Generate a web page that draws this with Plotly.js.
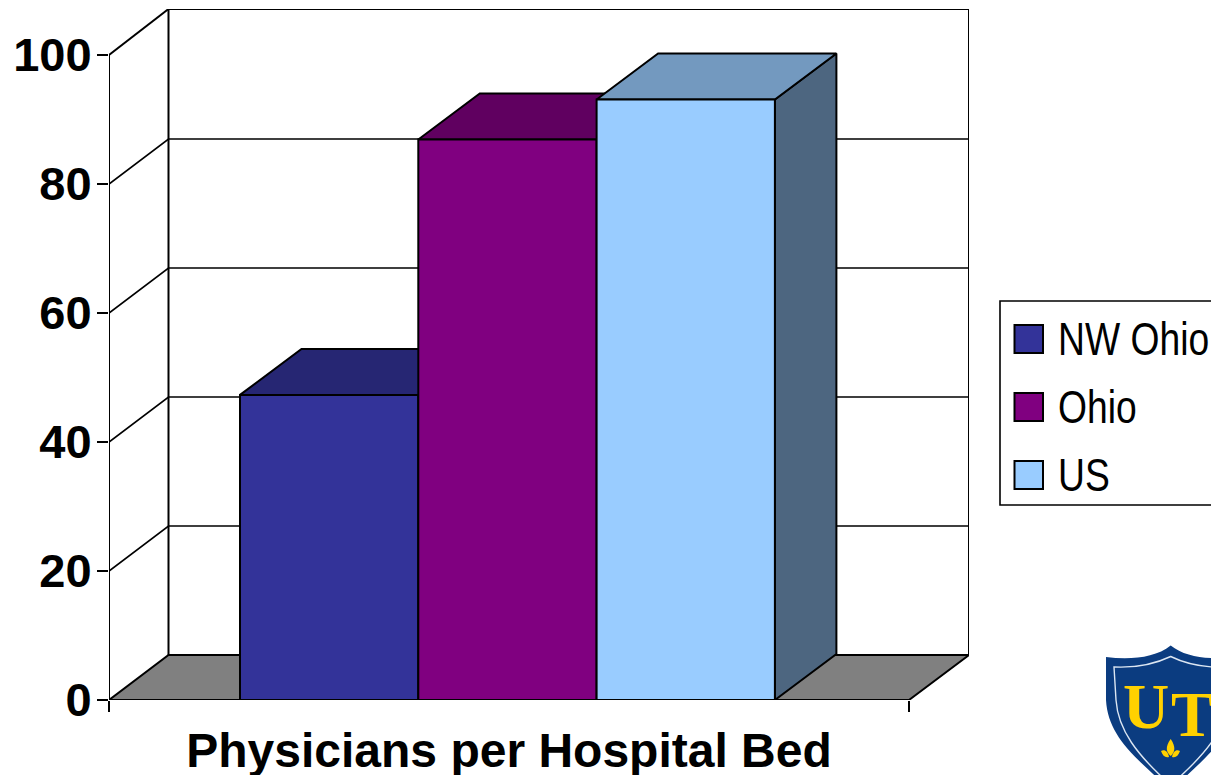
<!DOCTYPE html>
<html><head><meta charset="utf-8">
<script src="https://cdn.plot.ly/plotly-3.0.1.min.js"></script>
<style>html,body{margin:0;padding:0;background:#fff;overflow:hidden}#c{width:1211px;height:775px}</style>
</head><body><div id="c"></div>
<script>
const categories = ['NW Ohio', 'Ohio', 'US'];
const values = [47.3, 86.9, 93.1];
const frontColors = ['#333399', '#800080', '#99CCFF'];
const topColors = ['#262673', '#600060', '#7399BF'];
const sideColors = ['#262673', '#600060', '#4D6680'];
const yTicks = [0, 20, 40, 60, 80, 100];
const xLabel = 'Physicians per Hospital Bed';

const W = 1211, H = 775;
const L = 109, R = 969, T = 9, B = 700;
const frontWidth = 800, unitPx = 6.45;
const depthX = 59.5 / frontWidth, depthY = 45 / unitPx;
const barDepthX = 61.5 / frontWidth, barDepthY = 46 / unitPx;
const barW = 178.3 / frontWidth, barStart = 131 / frontWidth;
const xMax = (R - L) / frontWidth, yMax = (B - T) / unitPx;
const LW = 2, GRID_LW = 1.7;

const px = x => (x - L) / (R - L);
const py = y => (B - y) / (B - T);

const traces = [];
function poly(xs, ys, fill, lw) {
  traces.push({type:'scatter', mode:'lines', x:xs, y:ys, fill: fill ? 'toself' : 'none', cliponaxis:false,
    fillcolor: fill || undefined, line:{color:'#000', width:lw || LW}, hoverinfo:'skip', showlegend:false, xaxis:'x', yaxis:'y'});
}
// floor
poly([0, 1, xMax, depthX, 0], [0, 0, depthY, depthY, 0], '#808080');
// back wall outline and side wall edge
poly([depthX, depthX, xMax, xMax], [depthY, yMax, yMax, depthY]);
poly([0, depthX], [100, yMax]);
poly([0, 0], [0, 100]);
poly([0, 1], [0, 0]);
// gridlines over both walls
yTicks.filter(v => v > 0 && v < 100).forEach(v => {
  poly([0, depthX, xMax], [v, v + depthY, v + depthY], null, GRID_LW);
});
// tops and sides
categories.forEach((c, i) => {
  const x0 = barStart + i * barW, x1 = x0 + barW, v = values[i];
  poly([x1, x1 + barDepthX, x1 + barDepthX, x1, x1], [0, barDepthY, v + barDepthY, v, 0], sideColors[i]);
  poly([x0, x1, x1 + barDepthX, x0 + barDepthX, x0], [v, v, v + barDepthY, v + barDepthY, v], topColors[i]);
});
// fronts on an overlaying subplot so they hide what is behind them
traces.push({type:'bar', x: categories.map((c, i) => barStart + (i + 0.5) * barW), y: values,
  width: categories.map(() => barW), cliponaxis:false,
  marker:{color: frontColors, line:{color:'#000', width:LW}}, text: categories, textposition:'none',
  hoverinfo:'text+y', showlegend:false, xaxis:'x2', yaxis:'y2'});

// legend drawn to keep the reference's large swatches
const shapes = [];
const annotations = [];
function rect(x0, y0, x1, y1, fill, w) {
  shapes.push({type:'rect', xref:'paper', yref:'paper', x0:px(x0), x1:px(x1), y0:py(y0), y1:py(y1),
    fillcolor:fill, line:{color:'#000', width:w}, layer:'above'});
}
rect(1000, 301, 1240, 505, '#FFFFFF', 1.6);
const legendY = [339, 407, 475];
categories.forEach((c, i) => {
  rect(1014.5, legendY[i] - 14, 1043, legendY[i] + 14, frontColors[i], 2);
  annotations.push({xref:'paper', yref:'paper', x:px(1056.5), y:py(legendY[i]), xanchor:'left', yanchor:'middle',
    text:c, showarrow:false, align:'left', borderpad:0,
    font:{family:'"Liberation Sans", Arial, sans-serif', size:46, color:'#000'}});
});

// logo
function pathOf(cmds) {
  return cmds.map(c => c[0] + c.slice(1).map((v, k) => k % 2 === 0 ? px(v) : py(v)).join(' ')).join(' ');
}
function shape(cmds, fill, lineColor, lw) {
  shapes.push({type:'path', xref:'paper', yref:'paper', path:pathOf(cmds), fillcolor:fill,
    line:{color:lineColor || fill, width:lw === undefined ? 0 : lw}, layer:'above'});
}
const navy = '#0B3C80', gold = '#FFD100';
shape([['M',1106,657],['C',1130,660,1155,658,1170.7,645.5],['C',1186,658,1212,660,1236,657],
       ['L',1236,700],['C',1232,735,1210,755,1170.7,790],['C',1132,755,1108,735,1106,700],['Z']], navy);
shape([['M',1114,667],['C',1135,668,1155,664,1170.7,656.5],['C',1186,664,1206,668,1228,667],
       ['L',1228,700],['C',1226,730,1205,755,1170.7,785],['C',1137,755,1118,730,1116,700],['Z']], 'rgba(0,0,0,0)', '#DCE6F2', 1.4);
annotations.push({xref:'paper', yref:'paper', x:px(1146), y:py(706), text:'<b>U</b>', showarrow:false, xanchor:'center', yanchor:'middle',
  font:{family:'"Liberation Serif", serif', size:64, color:gold}});
annotations.push({xref:'paper', yref:'paper', x:px(1192), y:py(714), text:'<b>T</b>', showarrow:false, xanchor:'center', yanchor:'middle',
  font:{family:'"Liberation Serif", serif', size:64, color:gold}});
shape([['M',1170.7,739],['C',1165,747,1166,752,1170.7,756],['C',1175,752,1176,747,1170.7,739],['Z']], gold);
shape([['M',1161,751],['C',1165,749,1168,752,1169,757],['C',1165,758,1163,756,1161,751],['Z']], gold);
shape([['M',1180,751],['C',1176,749,1173,752,1172,757],['C',1176,758,1178,756,1180,751],['Z']], gold);

const layout = {
  width:W, height:H, paper_bgcolor:'#fff', plot_bgcolor:'#fff', showlegend:false,
  margin:{l:L, r:W - R, t:T, b:H - B, pad:0},
  font:{family:'"Liberation Sans", Arial, sans-serif', color:'#000'},
  xaxis:{range:[0, xMax], fixedrange:true, showgrid:false, zeroline:false, showline:false,
    tickmode:'array', tickvals:[0.5], ticktext:[xLabel], ticks:'', ticklen:0, ticklabelstandoff:18,
    tickfont:{size:48, color:'#000', family:'"Liberation Sans", Arial, sans-serif', weight:'bold'},
    minor:{tickmode:'array', tickvals:[0, 1], ticks:'outside', ticklen:11, tickwidth:LW, tickcolor:'#000', showgrid:false}},
  yaxis:{range:[0, yMax], fixedrange:true, showgrid:false, zeroline:false, showline:false,
    tickmode:'array', tickvals:yTicks, ticktext:yTicks.map(String), ticks:'outside', ticklen:11, tickwidth:LW, tickcolor:'#000',
    ticklabelstandoff:-4,
    tickfont:{size:47, color:'#000', family:'"Liberation Sans", Arial, sans-serif', weight:'bold'}},
  xaxis2:{range:[0, xMax], overlaying:'x', visible:false, fixedrange:true},
  yaxis2:{range:[0, yMax], overlaying:'y', visible:false, fixedrange:true},
  shapes, annotations, bargap:0
};
Plotly.newPlot('c', traces, layout, {displayModeBar:false, staticPlot:true}).then(gd => {
  // the reference's legend face is a narrow sans: condense the real text horizontally
  gd.querySelectorAll('.annotation-text').forEach(t => {
    const s = t.textContent;
    if (categories.includes(s)) {
      t.setAttribute('textLength', t.getComputedTextLength() * 0.81);
      t.setAttribute('lengthAdjust', 'spacingAndGlyphs');
    }
  });
});
</script></body></html>
